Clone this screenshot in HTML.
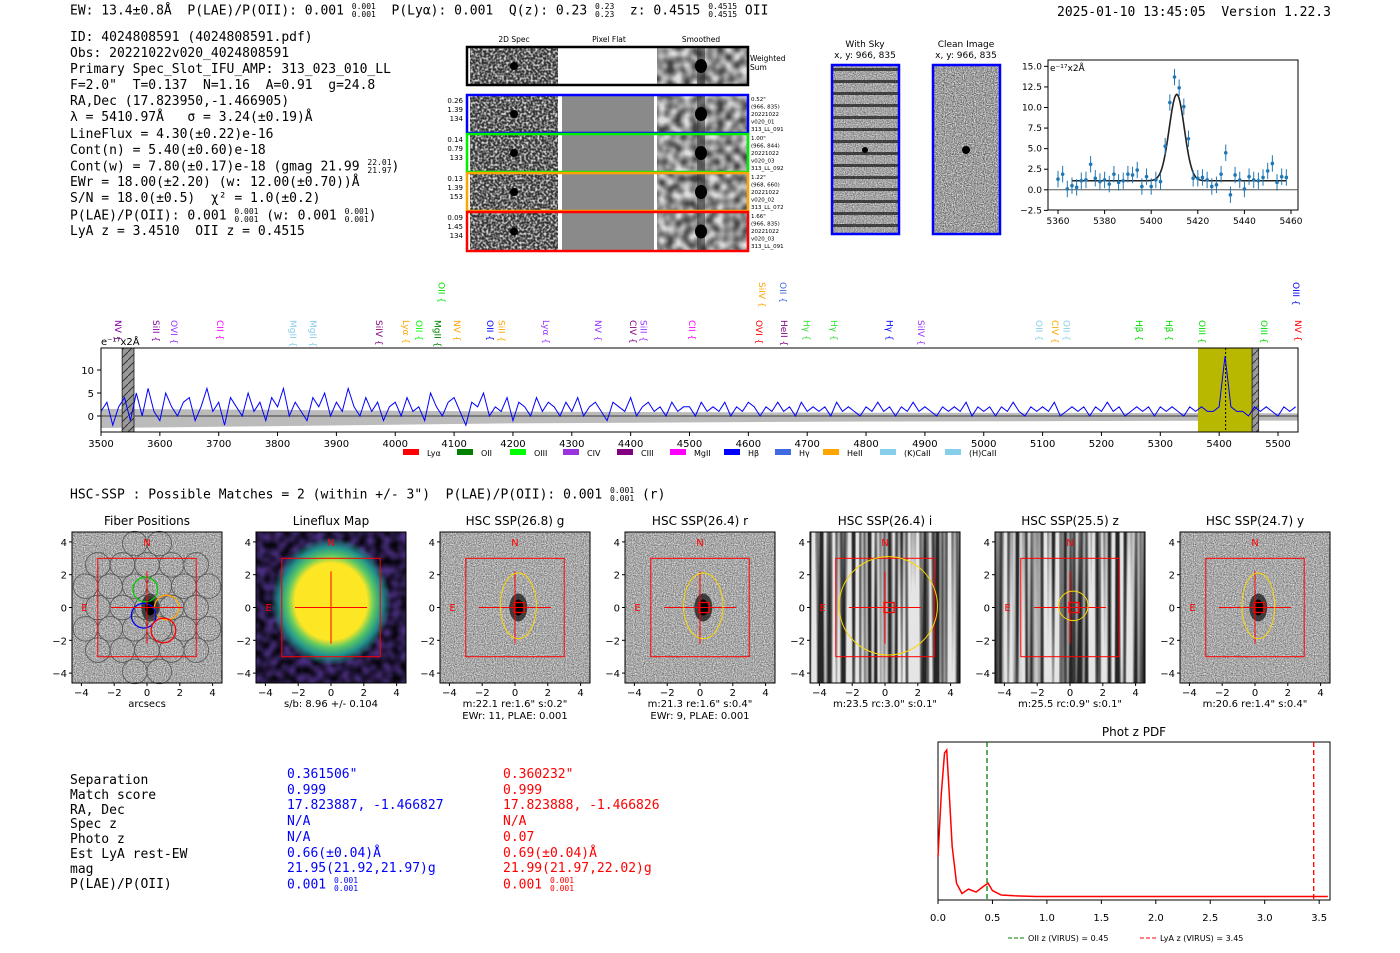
<!DOCTYPE html>
<html><head><meta charset="utf-8">
<style>
body{margin:0;background:#fff;width:1400px;height:953px;overflow:hidden;position:relative;font-family:"DejaVu Sans","Liberation Sans",sans-serif;}
.m{position:absolute;font-family:"DejaVu Sans Mono","Liberation Mono",monospace;font-size:13px;white-space:pre;line-height:15px;color:#000;}
.st{display:inline-block;vertical-align:middle;font-size:8px;line-height:8px;text-align:left;}
svg{position:absolute;left:0;top:0;}
</style></head><body>
<div class="m" style="left:70px;top:3px">EW: 13.4±0.8Å  P(LAE)/P(OII): 0.001 <span class="st">0.001<br>0.001</span>  P(Lyα): 0.001  Q(z): 0.23 <span class="st">0.23<br>0.23</span>  z: 0.4515 <span class="st">0.4515<br>0.4515</span> OII</div>
<div class="m" style="left:1057px;top:5px">2025-01-10 13:45:05  Version 1.22.3</div>
<div class="m" style="left:70px;top:30px;line-height:16.1px">ID: 4024808591 (4024808591.pdf)
Obs: 20221022v020_4024808591
Primary Spec_Slot_IFU_AMP: 313_023_010_LL
F=2.0"  T=0.137  N=1.16  A=0.91  g=24.8
RA,Dec (17.823950,-1.466905)
λ = 5410.97Å   σ = 3.24(±0.19)Å
LineFlux = 4.30(±0.22)e-16
Cont(n) = 5.40(±0.60)e-18
Cont(w) = 7.80(±0.17)e-18 (gmag 21.99 <span class="st">22.01<br>21.97</span>)
EWr = 18.00(±2.20) (w: 12.00(±0.70))Å
S/N = 18.0(±0.5)  χ² = 1.0(±0.2)
P(LAE)/P(OII): 0.001 <span class="st">0.001<br>0.001</span> (w: 0.001 <span class="st">0.001<br>0.001</span>)
LyA z = 3.4510  OII z = 0.4515</div>
<div class="m" style="left:70px;top:487px">HSC-SSP : Possible Matches = 2 (within +/- 3")  P(LAE)/P(OII): 0.001 <span class="st">0.001<br>0.001</span> (r)</div>
<div class="m" style="left:70px;top:774px;line-height:14.8px">Separation
Match score
RA, Dec
Spec z
Photo z
Est LyA rest-EW
mag
P(LAE)/P(OII)</div>
<div class="m" style="left:287px;top:767px;line-height:15.7px;color:#0000ff">0.361506"
0.999
17.823887, -1.466827
N/A
N/A
0.66(±0.04)Å
21.95(21.92,21.97)g
0.001 <span class="st">0.001<br>0.001</span></div>
<div class="m" style="left:503px;top:767px;line-height:15.7px;color:#ff0000">0.360232"
0.999
17.823888, -1.466826
N/A
0.07
0.69(±0.04)Å
21.99(21.97,22.02)g
0.001 <span class="st">0.001<br>0.001</span></div>

<svg id="S" width="1400" height="953" xmlns="http://www.w3.org/2000/svg" font-family="DejaVu Sans, Liberation Sans, sans-serif">
<defs>
<filter id="noise" x="0" y="0" width="100%" height="100%"><feTurbulence type="fractalNoise" baseFrequency="0.45" numOctaves="1" seed="3"/><feColorMatrix type="matrix" values="0 0 0 0 0  0 0 0 0 0  0 0 0 0 0  0 0 0 -3 2.2"/><feComposite in2="SourceGraphic" operator="in"/></filter>
<filter id="noiseS" x="0" y="0" width="100%" height="100%"><feTurbulence type="fractalNoise" baseFrequency="0.12" numOctaves="1" seed="5"/><feColorMatrix type="matrix" values="0 0 0 0 0  0 0 0 0 0  0 0 0 0 0  0 0 0 -2 1.5"/><feComposite in2="SourceGraphic" operator="in"/></filter>
<filter id="stripe" x="0" y="0" width="100%" height="100%"><feTurbulence type="fractalNoise" baseFrequency="0.25 0.002" numOctaves="1" seed="7"/><feColorMatrix type="matrix" values="0 0 0 0 0  0 0 0 0 0  0 0 0 0 0  0 0 0 -4 2.5"/><feComposite in2="SourceGraphic" operator="in"/></filter>
<filter id="fine" x="0" y="0" width="100%" height="100%"><feTurbulence type="fractalNoise" baseFrequency="0.9" numOctaves="1" seed="2"/><feColorMatrix type="matrix" values="0 0 0 0 0  0 0 0 0 0  0 0 0 0 0  0 0 0 -1.6 1.2"/><feComposite in2="SourceGraphic" operator="in"/></filter>
<pattern id="sky" width="6" height="12" patternUnits="userSpaceOnUse"><rect width="6" height="12" fill="#d8d8d8"/><rect y="8" width="6" height="3" fill="#555"/></pattern>
<radialGradient id="blob" cx="0.5" cy="0.5" r="0.5"><stop offset="0.6" stop-color="#fde725"/><stop offset="0.72" stop-color="#5ec962"/><stop offset="0.85" stop-color="#21918c"/><stop offset="1" stop-color="#21918c" stop-opacity="0"/></radialGradient>
<pattern id="hatch" width="8" height="8" patternUnits="userSpaceOnUse"><rect width="8" height="8" fill="#999"/><path d="M0 8L8 0" stroke="#333" stroke-width="1"/></pattern>
</defs>
<g id="G"></g>
</svg>
<script>
const NS="http://www.w3.org/2000/svg";
const G=document.getElementById('G');
function mk(t,a,p){const e=document.createElementNS(NS,t);for(const k in a)e.setAttribute(k,a[k]);(p||G).appendChild(e);return e;}
function tx(x,y,s,a,p){const e=mk('text',Object.assign({x:x,y:y,'font-size':10},a||{}),p);e.textContent=s;return e;}

// ===== Spectrum data =====
const specStart=3500, specStep=10;
const specFlux=[1,3,-2,2,4,-1,5,0,6,1,-1,5,2,0,3,4,-1,2,6,1,3,-2,4,2,0,5,1,3,-1,4,2,6,0,3,1,-1,4,2,5,0,3,1,6,2,0,4,1,3,-1,2,
3,0,4,1,2,-1,5,2,0,3,4,1,-2,3,2,5,0,2,1,4,-1,3,2,0,4,1,3,2,0,3,1,4,0,2,3,1,-1,3,2,1,4,0,2,3,1,2,0,3,1,2,
2,0,3,1,2,1,3,0,2,1,3,2,0,2,1,3,1,2,0,3,1,2,1,2,0,3,1,2,1,0,2,1,3,1,2,0,2,1,3,1,2,1,0,2,1,2,1,3,0,2,
1,2,0,2,1,3,1,0,2,1,2,1,3,0,1,2,1,2,0,2,1,3,1,2,0,1,2,1,2,0,2,1,2,1,0,2,1,2,1,1,2,13,2,1,1,0,2,1,2,1,0,2,1,2];
const specErrW=[3500,3800,4200,4800,5534];
const specErr=[2.6,2.2,1.6,1.2,1.0];
const specXTicks=[3500,3600,3700,3800,3900,4000,4100,4200,4300,4400,4500,4600,4700,4800,4900,5000,5100,5200,5300,5400,5500];
const specYTicks=[0,5,10];
const lineWaves=[3519,3583,3614,3692,3816,3850,3962,4008,4030,4062,4068,4095,4151,4170,4246,4334,4394,4412,4494,4608,4613,4649,4650,4689,4735,4830,4883,5084,5111,5130,5254,5305,5361,5466,5524,5520];
const lineNames=["NV","SiII","OVI","CII","MgII","MgII","SiIV","Lyα","OII","MgII","OII","NV","OII","SiII","Lyα","NV","CIV","SiII","CII","OVI","SiIV","OII","HeII","Hγ","Hγ","Hγ","SiIV","OII","CIV","OII","Hβ","Hβ","OIII","OIII","NV","OIII"];
const lineCols=["#8000a0","#8000a0","#9933ff","#ff00ff","#87ceeb","#87ceeb","#800080","#ffa500","#00ff00","#008000","#00e000","#ffa500","#0000ff","#ffa500","#9933ff","#9933ff","#800080","#9933ff","#ff00ff","#ff0000","#ffa500","#4169e1","#800080","#33dd33","#33dd33","#0000ff","#9933ff","#87ceeb","#ffa500","#87ceeb","#00dd00","#00dd00","#00dd00","#00dd00","#ff0000","#0000ff"];
const lineHigh=[0,0,0,0,0,0,0,0,0,0,1,0,0,0,0,0,0,0,0,0,1,1,0,0,0,0,0,0,0,0,0,0,0,0,0,1];

const sx=w=>101+(w-3500)*0.5885, sy=v=>416-v*4.6;
const spec=mk('g',{});


let up=[],dn=[];
for(let i=0;i<specErrW.length;i++){up.push(sx(specErrW[i])+','+sy(specErr[i]*0.6));dn.unshift(sx(specErrW[i])+','+sy(-specErr[i]));}
const band=mk('polygon',{points:up.concat(dn).join(' '),fill:'#bbb'},spec);


mk('line',{x1:101,x2:1298,y1:sy(0),y2:sy(0),stroke:'#666','stroke-width':1.5},spec);
const hl=mk('rect',{x:sx(5364),y:348,width:sx(5456)-sx(5364),height:84,fill:'#b8b800'},spec);


const hb1=mk('rect',{x:sx(3536),y:348,width:sx(3556)-sx(3536),height:84,fill:'url(#hatch)',stroke:'#333'},spec);


const hb2=mk('rect',{x:sx(5456),y:348,width:sx(5467)-sx(5456),height:84,fill:'url(#hatch)',stroke:'#333'},spec);


mk('line',{x1:sx(5411),x2:sx(5411),y1:348,y2:432,stroke:'#000','stroke-dasharray':'2,2'},spec);
let pts=specFlux.map((v,i)=>{const w=specStart+i*specStep;return sx(Math.min(w,5534))+','+sy(Math.max(-3.4,Math.min(14.5,v)));}).join(' ');
const sl=mk('polyline',{points:pts,fill:'none',stroke:'#0000ff','stroke-width':1},spec);


mk('rect',{x:101,y:348,width:1197,height:84,fill:'none',stroke:'#000'},spec);
specXTicks.forEach(t=>{mk('line',{x1:sx(t),x2:sx(t),y1:432,y2:436,stroke:'#000'},spec);const l=tx(sx(t),447,t,{'text-anchor':'middle'},spec);});
specYTicks.forEach(t=>{mk('line',{x1:97,x2:101,y1:sy(t),y2:sy(t),stroke:'#000'},spec);tx(94,sy(t)+4,t,{'text-anchor':'end'},spec);});
tx(101,345,'e⁻¹⁷x2Å',{'font-size':10},spec);
lineWaves.forEach((w,i)=>{const x=sx(w);const y=lineHigh[i]?282:320;const g=mk('text',{x:0,y:0,'font-size':9,fill:lineCols[i],transform:`translate(${x+3},${y}) rotate(90)`},spec);g.textContent=lineNames[i]+' {';});
const legN=["Lyα","OII","OIII","CIV","CIII","MgII","Hβ","Hγ","HeII","(K)CaII","(H)CaII"];
const legC=["#ff0000","#008000","#00ff00","#9933dd","#800080","#ff00ff","#0000ff","#4169e1","#ffa500","#87ceeb","#87ceeb"];
const legX=[403,457,510,563,617,670,724,775,823,880,945];
legN.forEach((n,i)=>{mk('rect',{x:legX[i],y:449,width:16,height:6,fill:legC[i]},spec);const l=tx(legX[i]+24,456,n,{'font-size':8},spec);});

// ===== Line fit plot =====
const fitWave=[5360,5362,5364,5366,5368,5370,5372,5374,5376,5378,5380,5382,5384,5386,5388,5390,5392,5394,5396,5398,5400,5402,5404,5406,5408,5410,5412,5414,5416,5418,5420,5422,5424,5426,5428,5430,5432,5434,5436,5438,5440,5442,5444,5446,5448,5450,5452,5454,5456,5458];
const fitFlux=[1.3,1.9,0.1,0.5,0.3,1.1,1.2,3.1,1.4,1.0,1.2,0.7,1.9,0.9,1.1,1.9,1.8,2.4,0.4,1.6,0.4,1.2,1.0,5.3,10.6,13.7,12.4,10.1,6.2,1.4,1.4,1.5,1.2,0.4,0.6,1.9,4.5,-0.6,1.8,1.2,0.1,1.6,1.2,1.1,1.5,2.3,3.2,0.9,1.6,1.5];
const fitErr=1.0;
const fitCenter=5410.97, fitSigma=3.24, fitAmp=10.5, fitCont=1.1;
const fitXTicks=[5360,5380,5400,5420,5440,5460];
const fitYTicks=[-2.5,0,2.5,5,7.5,10,12.5,15];
const fx=w=>1058+(w-5360)*2.33, fy=v=>189.8-v*8.23;
const fp=mk('g',{});


mk('rect',{x:1048,y:60,width:250,height:150,fill:'#fff',stroke:'#000'},fp);
mk('line',{x1:1048,x2:1298,y1:fy(0),y2:fy(0),stroke:'#555'},fp);
let mp=[];for(let w=5366;w<=5458;w+=0.5){mp.push(fx(w)+','+fy(fitCont+fitAmp*Math.exp(-0.5*((w-fitCenter)/fitSigma)**2)));}
const mdl=mk('polyline',{points:mp.join(' '),fill:'none',stroke:'#222','stroke-width':1.6},fp);


fitWave.forEach((w,i)=>{const x=fx(w),y=fy(fitFlux[i]);mk('line',{x1:x,x2:x,y1:fy(fitFlux[i]+fitErr),y2:fy(fitFlux[i]-fitErr),stroke:'#1f77b4'},fp);const c=mk('circle',{cx:x,cy:y,r:1.8,fill:'#1f77b4'},fp);});
fitXTicks.forEach(t=>{mk('line',{x1:fx(t),x2:fx(t),y1:210,y2:214,stroke:'#000'},fp);tx(fx(t),224,t,{'text-anchor':'middle','font-size':9},fp);});
fitYTicks.forEach(t=>{mk('line',{x1:1044,x2:1048,y1:fy(t),y2:fy(t),stroke:'#000'},fp);tx(1042,fy(t)+3,t.toFixed(1).replace('-','−'),{'text-anchor':'end','font-size':9},fp);});
tx(1050,71,'e⁻¹⁷x2Å',{'font-size':9},fp);

// ===== 2D spec panels =====
const sp=mk('g',{});


[['2D Spec',514],['Pixel Flat',609],['Smoothed',701]].forEach(h=>tx(h[1],42,h[0],{'text-anchor':'middle','font-size':7.5},sp));
const rowsY=[47,95,134,173,212], rowsH=[38,38,38,38,39];
const rowCol=['#000','#0000ff','#00ee00','#ffa500','#ff0000'];
const rowL=[null,['0.26','1.39','134'],['0.14','0.79','133'],['0.13','1.39','153'],['0.09','1.45','134']];
const rowR=[null,['0.52"','(966, 835)','20221022','v020_01','313_LL_091'],['1.00"','(966, 844)','20221022','v020_03','313_LL_092'],['1.22"','(968, 660)','20221022','v020_02','313_LL_072'],['1.66"','(966, 835)','20221022','v020_03','313_LL_091']];
rowsY.forEach((y,i)=>{const h=rowsH[i];
 mk('rect',{x:470,y:y,width:88,height:h,fill:'#888',filter:'url(#noise)'},sp);
 mk('rect',{x:470,y:y,width:88,height:h,fill:'#999',opacity:0.35},sp);
 mk('circle',{cx:514,cy:y+h/2,r:4,fill:'#000'},sp);
 mk('rect',{x:562,y:y,width:92,height:h,fill:i?'#8a8a8a':'#fff'},sp);
 mk('rect',{x:657,y:y,width:90,height:h,fill:'#777',filter:'url(#noiseS)'},sp);
 mk('rect',{x:657,y:y,width:90,height:h,fill:'#aaa',opacity:0.4},sp);
 mk('rect',{x:697,y:y,width:8,height:h,fill:'#333',opacity:0.6},sp);
 mk('ellipse',{cx:701,cy:y+h/2,rx:6,ry:7,fill:'#000'},sp);
 const b=mk('rect',{x:467,y:y,width:281,height:h,fill:'none',stroke:rowCol[i],'stroke-width':2.5},sp);
 
 
 if(rowL[i])rowL[i].forEach((s,k)=>tx(463,y+8+k*9,s,{'text-anchor':'end','font-size':7},sp));
 if(rowR[i])rowR[i].forEach((s,k)=>tx(751,y+6+k*7.5,s,{'font-size':5.5},sp));
});
tx(750,61,'Weighted',{'font-size':7.5},sp);tx(750,70,'Sum',{'font-size':7.5},sp);

// ===== sky / clean =====
const sk=mk('g',{});


tx(865,47,'With Sky',{'text-anchor':'middle','font-size':9},sk);tx(865,58,'x, y: 966, 835',{'text-anchor':'middle','font-size':9},sk);
tx(966,47,'Clean Image',{'text-anchor':'middle','font-size':9},sk);tx(966,58,'x, y: 966, 835',{'text-anchor':'middle','font-size':9},sk);
mk('rect',{x:832,y:65,width:67,height:169,fill:'url(#sky)'},sk);
mk('rect',{x:832,y:65,width:67,height:169,fill:'#888',filter:'url(#fine)',opacity:0.6},sk);
mk('circle',{cx:865,cy:150,r:3,fill:'#000'},sk);
mk('rect',{x:933,y:65,width:67,height:169,fill:'#888',filter:'url(#fine)'},sk);
mk('rect',{x:933,y:65,width:67,height:169,fill:'#aaa',opacity:0.3},sk);
mk('circle',{cx:966,cy:150,r:4,fill:'#000'},sk);
mk('rect',{x:832,y:65,width:67,height:169,fill:'none',stroke:'#0000ff','stroke-width':2.5},sk);
mk('rect',{x:933,y:65,width:67,height:169,fill:'none',stroke:'#0000ff','stroke-width':2.5},sk);

// ===== cutouts =====
const cutX=[72,256,440,625,810,995,1180];
const cutTitle=["Fiber Positions","Lineflux Map","HSC SSP(26.8) g","HSC SSP(26.4) r","HSC SSP(26.4) i","HSC SSP(25.5) z","HSC SSP(24.7) y"];
const cutSub1=["arcsecs","s/b: 8.96 +/- 0.104",'m:22.1  re:1.6"  s:0.2"','m:21.3  re:1.6"  s:0.4"','m:23.5 rc:3.0"  s:0.1"','m:25.5 rc:0.9"  s:0.1"','m:20.6  re:1.4"  s:0.4"'];
const cutSub2=["","","EWr: 11, PLAE: 0.001","EWr: 9, PLAE: 0.001","","",""];
const cutRx=[0,0,1.1,1.2,3.0,0.9,1.0], cutRy=[0,0,2.0,2.0,3.0,0.9,2.0];
const cutTicks=[-4,-2,0,2,4];
cutX.forEach((x0,i)=>{
 const g=mk('g',{});
 
 
 const cx=x0+75,cy=607.5,s=16.4,X=a=>cx+a*s,Y=a=>cy-a*s;
 if(i==1){mk('rect',{x:x0,y:532,width:150,height:151,fill:'#472d7b'},g);mk('rect',{x:x0,y:532,width:150,height:151,fill:'#21918c',filter:'url(#noiseS)',opacity:0.9},g);mk('ellipse',{cx:cx,cy:cy-6,rx:60,ry:64,fill:'url(#blob)'},g);}
 else if(i==4||i==5){mk('rect',{x:x0,y:532,width:150,height:151,fill:'#888',filter:'url(#stripe)'},g);mk('rect',{x:x0,y:532,width:150,height:151,fill:'#999',opacity:0.25},g);}
 else{mk('rect',{x:x0,y:532,width:150,height:151,fill:'#888',filter:'url(#fine)'},g);mk('rect',{x:x0,y:532,width:150,height:151,fill:'#bbb',opacity:0.45},g);}
 if(i!=1&&i!=4&&i!=5){mk('ellipse',{cx:X(0.2),cy:Y(0),rx:9,ry:14,fill:'#222',opacity:0.8},g);mk('ellipse',{cx:X(0.2),cy:Y(0),rx:5,ry:8,fill:'#000'},g);}
 if(i==0){for(let r=-3;r<=3;r++)for(let c=-3;c<=3;c++){const px=c*1.5+(r%2?0.75:0),py=r*1.3;if(px*px+py*py<18)mk('circle',{cx:X(px),cy:Y(py),r:0.75*s,fill:'none',stroke:'#555','stroke-width':0.8},g);}
  [['#00cc00',-0.1,1.1],['#ffa500',1.2,0],['#0000ff',-0.2,-0.5],['#ff0000',1.0,-1.4]].forEach(f=>mk('circle',{cx:X(f[1]),cy:Y(f[2]),r:0.75*s,fill:'none',stroke:f[0],'stroke-width':1.3},g));}
 mk('rect',{x:X(-3),y:Y(3),width:6*s,height:6*s,fill:'none',stroke:'#ff0000','stroke-width':1},g);
 mk('line',{x1:X(-2.2),x2:X(2.2),y1:cy,y2:cy,stroke:'#ff0000'},g);mk('line',{x1:cx,x2:cx,y1:Y(2.2),y2:Y(-2.2),stroke:'#ff0000'},g);
 if(i>=2){mk('rect',{x:X(0.25)-5,y:cy-5,width:10,height:10,fill:'none',stroke:'#ff0000','stroke-width':1.3},g);mk('ellipse',{cx:X(0.2),cy:Y(0.1),rx:cutRx[i]*s,ry:cutRy[i]*s,fill:'none',stroke:'#ffd700','stroke-width':1},g);}
 tx(cx,546,'N',{'text-anchor':'middle',fill:'#ff0000','font-size':10},g);tx(X(-4),611,'E',{fill:'#ff0000','font-size':10},g);
 mk('rect',{x:x0,y:532,width:150,height:151,fill:'none',stroke:'#000'},g);
 cutTicks.forEach(t=>{tx(x0-5,Y(t)+4,(t<0?'−':'')+Math.abs(t),{'text-anchor':'end','font-size':10},g);tx(X(t),696,(t<0?'−':'')+Math.abs(t),{'text-anchor':'middle','font-size':10},g);mk('line',{x1:x0-3,x2:x0,y1:Y(t),y2:Y(t),stroke:'#000'},g);mk('line',{x1:X(t),x2:X(t),y1:683,y2:686,stroke:'#000'},g);});
 tx(cx,525,cutTitle[i],{'text-anchor':'middle','font-size':12},g);
 tx(cx,707,cutSub1[i],{'text-anchor':'middle','font-size':10},g);
 if(cutSub2[i])tx(cx,719,cutSub2[i],{'text-anchor':'middle','font-size':10},g);
});

// ===== Phot z PDF =====
const pdfZ=[0,0.03,0.06,0.08,0.1,0.13,0.17,0.22,0.28,0.35,0.42,0.46,0.5,0.58,0.7,0.9,1.2,3.5];
const pdfP=[0.28,0.7,0.98,1.0,0.75,0.35,0.1,0.03,0.06,0.04,0.08,0.1,0.05,0.02,0.015,0.01,0.01,0.01];
const pdfXTicks=[0,0.5,1,1.5,2,2.5,3,3.5];
const oiiZ=0.45, lyaZ=3.45;
const px=z=>938+z*108.9, py=p=>898-p*148;
const pd=mk('g',{});


mk('rect',{x:938,y:742,width:392,height:158,fill:'#fff',stroke:'#000'},pd);
tx(1134,736,'Phot z PDF',{'text-anchor':'middle','font-size':12},pd);
const pl=mk('polyline',{points:pdfZ.map((z,i)=>px(z)+','+py(pdfP[i])).join(' ')+' '+px(3.58)+','+py(0.01),fill:'none',stroke:'#ff0000','stroke-width':1.5},pd);


const l1=mk('line',{x1:px(oiiZ),x2:px(oiiZ),y1:742,y2:900,stroke:'#008000','stroke-dasharray':'5,3','stroke-width':1.3},pd);


const l2=mk('line',{x1:px(lyaZ),x2:px(lyaZ),y1:742,y2:900,stroke:'#ff0000','stroke-dasharray':'5,3','stroke-width':1.3},pd);


pdfXTicks.forEach(t=>{mk('line',{x1:px(t),x2:px(t),y1:900,y2:904,stroke:'#000'},pd);tx(px(t),921,t.toFixed(1),{'text-anchor':'middle','font-size':10},pd);});
mk('line',{x1:1008,x2:1024,y1:938,y2:938,stroke:'#008000','stroke-dasharray':'4,2'},pd);tx(1028,941,'OII z (VIRUS) = 0.45',{'font-size':8},pd);
mk('line',{x1:1140,x2:1156,y1:938,y2:938,stroke:'#ff0000','stroke-dasharray':'4,2'},pd);tx(1160,941,'LyA z (VIRUS) = 3.45',{'font-size':8},pd);
</script>
</body></html>
